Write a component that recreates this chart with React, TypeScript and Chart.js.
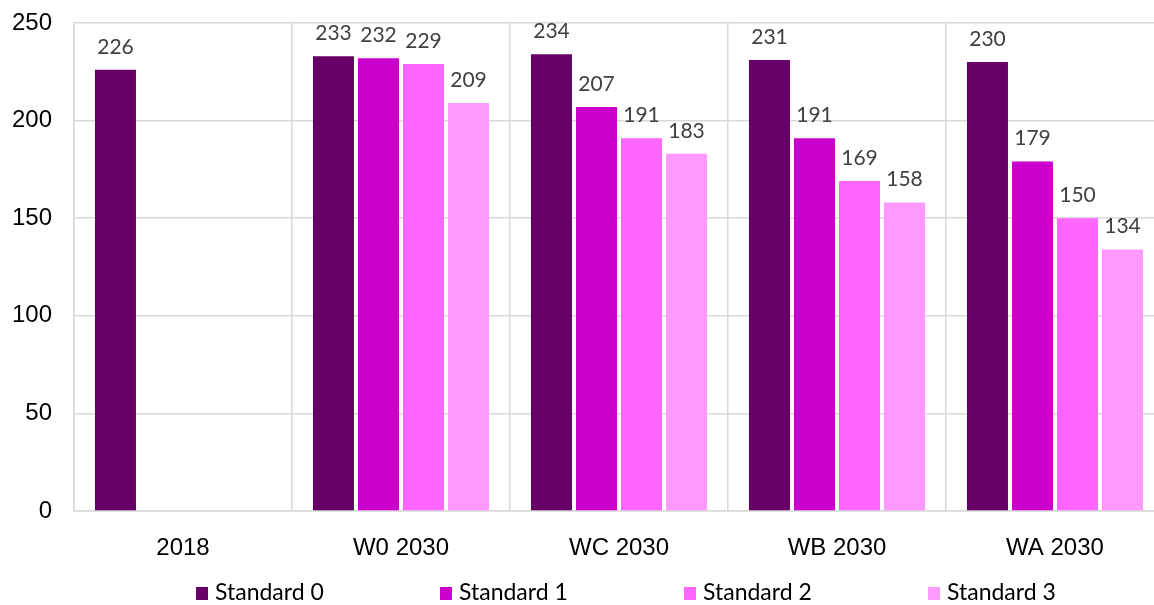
import React, { useEffect, useRef } from "react";
import { Chart, registerables } from "chart.js";

Chart.register(...registerables);

const categories = ["2018", "W0 2030", "WC 2030", "WB 2030", "WA 2030"];
const seriesNames = ["Standard 0", "Standard 1", "Standard 2", "Standard 3"];
const standard0 = [226, 233, 234, 231, 230];
const standard1 = [null, 232, 207, 191, 179];
const standard2 = [null, 229, 191, 169, 150];
const standard3 = [null, 209, 183, 158, 134];
const colors = ["#660066", "#CC00CC", "#FF66FF", "#FF99FF"];
const yTicks = [0, 50, 100, 150, 200, 250];

const LATO = "Lato, 'Noto Sans', sans-serif";
const ARIAL = "'Liberation Sans', Arial, sans-serif";

const valueLabels = {
  id: "valueLabels",
  afterDatasetsDraw(chart: any) {
    const ctx = chart.ctx;
    ctx.save();
    ctx.font = `21px ${LATO}`;
    ctx.fillStyle = "#404040";
    ctx.textAlign = "center";
    ctx.textBaseline = "middle";
    chart.data.datasets.forEach((ds: any, i: number) => {
      const meta = chart.getDatasetMeta(i);
      meta.data.forEach((bar: any, j: number) => {
        const v = ds.data[j];
        if (v === null || v === undefined) return;
        ctx.fillText(String(v), bar.x, bar.y - 23);
      });
    });
    ctx.restore();
  },
};

const bottomLegend = {
  id: "bottomLegend",
  afterDraw(chart: any) {
    const ctx = chart.ctx;
    const area = chart.chartArea;
    const step = 244;
    const startX = area.left + 122;
    const y = chart.height - 12;
    ctx.save();
    ctx.font = `23px ${LATO}`;
    ctx.textAlign = "left";
    ctx.textBaseline = "middle";
    chart.data.datasets.forEach((ds: any, i: number) => {
      const x = startX + i * step;
      ctx.fillStyle = ds.backgroundColor;
      ctx.fillRect(x, y - 6, 12, 13);
      ctx.fillStyle = "#000";
      ctx.fillText(ds.label, x + 19, y);
    });
    ctx.restore();
  },
};

export default function App() {
  const ref = useRef<HTMLCanvasElement>(null);
  useEffect(() => {
    if (!ref.current) return;
    const all = [standard0, standard1, standard2, standard3];
    const chart = new Chart(ref.current, {
      type: "bar",
      data: {
        labels: categories,
        datasets: all.map((d, i) => ({
          label: seriesNames[i],
          data: d,
          backgroundColor: colors[i],
          categoryPercentage: 0.826,
          barPercentage: 0.911,
        })),
      },
      options: {
        responsive: false,
        animation: false,
        layout: { padding: { left: 0, top: 23, right: 0, bottom: 50 } },
        plugins: {
          legend: { display: false },
          tooltip: { enabled: false },
        },
        scales: {
          x: {
            offset: true,
            grid: { offset: true, color: "#d9d9d9", lineWidth: 1.5, drawTicks: false },
            border: { color: "#d9d9d9", width: 1.5 },
            ticks: { font: { family: ARIAL, size: 24 }, color: "#000", padding: 23 },
            afterFit: (s: any) => {
              s.height = 44;
            },
          },
          y: {
            min: 0,
            max: 250,
            afterBuildTicks: (axis: any) => {
              axis.ticks = yTicks.map((v) => ({ value: v }));
            },
            grid: { color: "#d9d9d9", lineWidth: 1.5, drawTicks: false },
            border: { color: "#d9d9d9", width: 1.5 },
            ticks: { font: { family: ARIAL, size: 24 }, color: "#000", padding: 22 },
            afterFit: (s: any) => {
              s.width = 74;
              s.paddingTop = 14;
              s.paddingBottom = 14;
            },
          },
        },
      },
      plugins: [valueLabels, bottomLegend],
    });
    return () => chart.destroy();
  }, []);
  return (
    <div style={{ position: "fixed", left: 0, top: 0, width: 1154, height: 605, overflow: "hidden", background: "#fff" }}>
      <canvas ref={ref} width={1164} height={605} style={{ width: 1164, height: 605, display: "block" }} />
    </div>
  );
}
